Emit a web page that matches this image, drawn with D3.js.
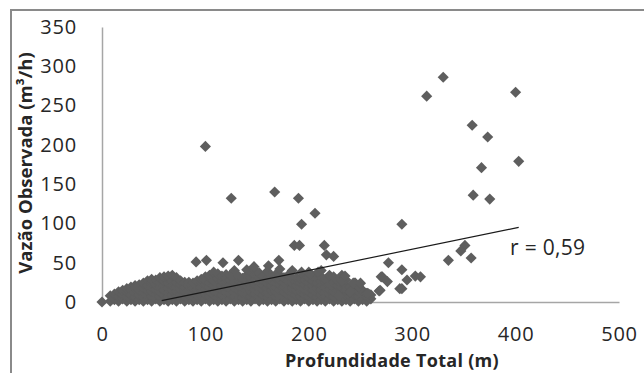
<!DOCTYPE html>
<html>
<head>
<meta charset="utf-8">
<script src="https://cdn.jsdelivr.net/npm/d3@7"></script>
<style>
  html, body { margin: 0; padding: 0; background: #fff; }
  svg { display: block; }
  .tick text { font-family: "Open Sans", sans-serif; font-size: 20px; letter-spacing: 0.8px; fill: #262626; }
</style>
</head>
<body>
<svg id="chart" width="644" height="373"></svg>
<script>
// ---- data ----
const xTicks = [0, 100, 200, 300, 400, 500];
const yTicks = [0, 50, 100, 150, 200, 250, 300, 350];

// dense cluster of wells: [depth, list of flows]
const denseColumns = [
  [8, [1, 8]], [12, [3, 10]], [16, [1, 7, 13]], [20, [4, 10, 15]],
  [24, [1, 7, 13, 17]], [28, [3, 9, 15, 19]], [32, [1, 6, 12, 18, 21]],
  [36, [3, 9, 15, 22]], [40, [1, 6, 12, 18, 24]], [44, [3, 9, 15, 21, 27]],
  [48, [1, 7, 13, 19, 25, 29]], [52, [4, 10, 16, 22, 28]],
  [56, [1, 7, 13, 19, 25, 31]], [60, [3, 9, 15, 21, 27, 32]],
  [64, [1, 6, 12, 18, 24, 30, 33]], [68, [3, 9, 15, 21, 27, 34]],
  [72, [1, 7, 13, 19, 25, 31]], [76, [4, 10, 16, 22, 27]],
  [80, [1, 7, 13, 19, 25]], [84, [3, 9, 15, 21, 25]],
  [88, [1, 6, 12, 18, 24]], [92, [3, 9, 15, 21, 27]],
  [96, [1, 7, 13, 19, 25, 29]], [100, [4, 10, 16, 22, 28, 32]],
  [104, [1, 7, 13, 19, 25, 31, 34]], [108, [3, 9, 15, 21, 27, 33, 38]],
  [112, [1, 6, 12, 18, 24, 30, 36]], [116, [3, 9, 15, 21, 27, 33]],
  [120, [1, 7, 13, 19, 25, 31, 35]], [124, [4, 10, 16, 22, 28, 34]],
  [128, [1, 7, 13, 19, 25, 31, 40]], [132, [3, 9, 15, 21, 27, 33]],
  [136, [1, 6, 12, 18, 24, 30]], [140, [3, 9, 15, 21, 27, 34, 41]],
  [144, [1, 7, 13, 19, 25, 31, 38]], [148, [4, 10, 16, 22, 28, 35, 40]],
  [152, [1, 7, 13, 19, 25, 31, 37]], [156, [3, 9, 15, 21, 27, 33]],
  [160, [1, 6, 12, 18, 24, 30, 39]], [164, [3, 9, 15, 21, 27, 33]],
  [168, [1, 7, 13, 19, 25, 31, 35]], [172, [4, 10, 16, 22, 28, 34, 42]],
  [176, [1, 7, 13, 19, 25, 31]], [180, [3, 9, 15, 21, 27, 34]],
  [184, [1, 6, 12, 18, 24, 30, 40]], [188, [3, 9, 15, 21, 27, 31]],
  [192, [1, 7, 13, 19, 25, 30]], [196, [4, 10, 16, 22, 28, 33]],
  [200, [1, 7, 13, 19, 25, 31, 38]], [204, [3, 9, 15, 21, 27, 33]],
  [208, [1, 6, 12, 18, 24, 30]], [212, [3, 9, 15, 21, 27, 32, 40]],
  [216, [1, 7, 13, 19, 25, 29]], [220, [4, 10, 16, 22, 28, 34]],
  [224, [1, 7, 13, 19, 25, 32]], [228, [3, 9, 15, 21, 27]],
  [232, [1, 6, 12, 18, 24, 34]], [236, [3, 9, 15, 21, 28]],
  [240, [1, 7, 13, 19]], [244, [4, 10, 16, 24]],
  [248, [1, 7, 13, 20]], [252, [3, 9, 15]],
  [256, [1, 7, 11]], [260, [4, 9]]
];

// scattered wells
const scatterDepth = [0, 100, 125, 167, 190, 206, 193, 290, 314, 330, 400, 358, 373, 367, 403,
  359, 375, 351, 347, 335, 357, 186, 191, 215, 217, 224, 91, 101, 117, 132, 147, 161, 171,
  277, 290, 271, 276, 268, 288, 258, 248, 245, 229, 232, 235, 295, 303, 308, 290,
  193, 201, 209, 240, 243, 250, 257, 269, 270];
const scatterFlow = [0, 198, 132, 140, 132, 113, 99, 99, 262, 286, 267, 225, 210, 171, 179,
  136, 131, 72, 65, 53, 56, 72, 72, 72, 60, 58, 51, 53, 50, 53, 45, 46, 53,
  50, 41, 32, 26, 14, 17, 10, 20, 24, 8, 27, 33, 28, 33, 32, 17,
  38, 36, 38, 13, 24, 24, 11, 15, 32];

const trendX = [57.7, 403];
const trendY = [1.7, 95];
const rLabel = "r = 0,59";

// ---- build table ----
const points = [];
denseColumns.forEach(([d, flows]) => flows.forEach(f => points.push({ x: d, y: f })));
scatterDepth.forEach((d, i) => points.push({ x: d, y: scatterFlow[i] }));

// ---- chart ----
const svg = d3.select("#chart");
const x = d3.scaleLinear().domain([0, 500]).range([102, 619]);
const y = d3.scaleLinear().domain([0, 350]).range([302, 27]);

// outer frame
svg.append("path")
  .attr("d", "M11,373V10H644")
  .attr("fill", "none").attr("stroke", "#8a8a8a").attr("stroke-width", 2);

// axes
const gx = svg.append("g").attr("transform", "translate(0,302)")
  .call(d3.axisBottom(x).tickValues(xTicks).tickSize(0).tickPadding(25));
const gy = svg.append("g").attr("transform", "translate(102,0)")
  .call(d3.axisLeft(y).tickValues(yTicks).tickSize(0).tickPadding(25));
[gx, gy].forEach(g => g.select(".domain").attr("stroke", "#a6a6a6").attr("stroke-width", 1.5));

// points
const sym = d3.symbol().type(d3.symbolSquare).size(62);
svg.append("g").selectAll("path").data(points).join("path")
  .attr("d", sym)
  .attr("transform", d => `translate(${x(d.x)},${y(d.y)}) rotate(45)`)
  .attr("fill", "#5e5e5e");

// trend line
svg.append("line")
  .attr("x1", x(trendX[0])).attr("y1", y(trendY[0]))
  .attr("x2", x(trendX[1])).attr("y2", y(trendY[1]))
  .attr("stroke", "#1a1a1a").attr("stroke-width", 1.2);

svg.append("text")
  .attr("x", 510).attr("y", 255)
  .attr("font-family", "Open Sans, sans-serif").attr("font-size", 21).attr("letter-spacing", 0.3).attr("fill", "#262626")
  .text(rLabel);

// axis titles
svg.append("text")
  .attr("x", 392).attr("y", 367)
  .attr("text-anchor", "middle")
  .attr("font-family", "Open Sans, sans-serif").attr("font-size", 18).attr("font-weight", "bold").attr("letter-spacing", 0.3).attr("fill", "#262626")
  .text("Profundidade Total (m)");

svg.append("text")
  .attr("transform", "translate(32,163) rotate(-90)")
  .attr("text-anchor", "middle")
  .attr("font-family", "Open Sans, sans-serif").attr("font-size", 18.5).attr("font-weight", "bold").attr("fill", "#262626")
  .text("Vazão Observada (m³/h)");
</script>
</body>
</html>
